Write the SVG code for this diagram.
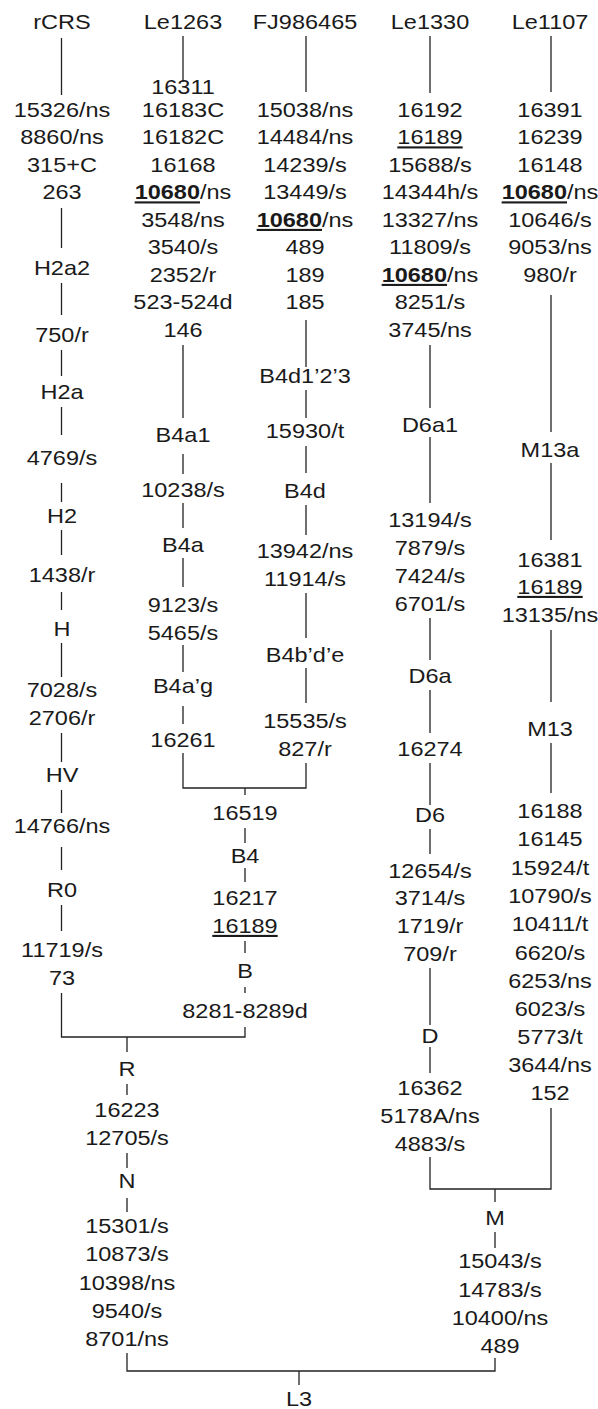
<svg xmlns="http://www.w3.org/2000/svg" width="598" height="1409" viewBox="0 0 598 1409">
<style>
text{font-family:"Liberation Sans",Arial,sans-serif;font-size:21px;fill:#1a1a1a;text-anchor:middle}
.b{font-weight:bold}
.u{text-decoration:underline}
.ln{fill:none;stroke:#222;stroke-width:1.3}
</style>
<rect width="598" height="1409" fill="#fff"/>
<g id="connectors" class="ln">
<path d="M61.5 38V95M61.5 208V248M61.5 283V315M61.5 350V376M61.5 407V435M61.5 483V502M61.5 530V555M61.5 592V610M61.5 643V677M61.5 733V762M61.5 790V813M61.5 847V870M61.5 905V931M61.5 993V1037H245V1027"/>
<path d="M183 36V82M183 345V418M183 454V474M183 503V528M183 558V587M183 645V672M183 706V724M183 753V788H306V763"/>
<path d="M306 36V92M306 320V367M306 390V418M306 446V473M306 505V535M306 593V638M306 668V703"/>
<path d="M245 788V795M245 828V843M245 868V882M245 941V953M245 987V993"/>
<path d="M127 1037V1052M127 1084V1095M127 1153V1168M127 1198V1212M127 1353V1371H495V1358M299 1371V1385"/>
<path d="M430 36V93M430 345V408M430 437V503M430 618V660M430 690V733M430 763V805M430 829V854M430 968V1025M430 1047V1073M430 1157V1189H551V1108"/>
<path d="M551 36V92M551 295V432M551 463V540M551 630V702M551 743V793"/>
<path d="M495 1189V1202M495 1232V1248"/>
</g>
<g id="rCRS" transform="translate(62,0) scale(1.12,1)">
<text y="29">rCRS</text>
<text y="117">15326/ns</text>
<text y="144.5">8860/ns</text>
<text y="172">315+C</text>
<text y="199.5">263</text>
<text y="275">H2a2</text>
<text y="342">750/r</text>
<text y="399">H2a</text>
<text y="465">4769/s</text>
<text y="523">H2</text>
<text y="582">1438/r</text>
<text y="636">H</text>
<text y="697">7028/s</text>
<text y="725">2706/r</text>
<text y="782">HV</text>
<text y="833">14766/ns</text>
<text y="897">R0</text>
<text y="957">11719/s</text>
<text y="985">73</text>
</g>
<g id="Le1263" transform="translate(183,0) scale(1.12,1)">
<text y="29">Le1263</text>
<text y="94">16311</text>
<text y="117">16183C</text>
<text y="144.5">16182C</text>
<text y="172">16168</text>
<text y="199.5"><tspan class="b u">10680</tspan>/ns</text>
<text y="227">3548/ns</text>
<text y="254.5">3540/s</text>
<text y="282">2352/r</text>
<text y="309.5">523-524d</text>
<text y="337">146</text>
<text y="442">B4a1</text>
<text y="497">10238/s</text>
<text y="552">B4a</text>
<text y="612">9123/s</text>
<text y="640">5465/s</text>
<text y="693">B4a’g</text>
<text y="747">16261</text>
</g>
<g id="FJ986465" transform="translate(305,0) scale(1.12,1)">
<text y="29">FJ986465</text>
<text y="117">15038/ns</text>
<text y="144.5">14484/ns</text>
<text y="172">14239/s</text>
<text y="199.5">13449/s</text>
<text y="227"><tspan class="b u">10680</tspan>/ns</text>
<text y="254.5">489</text>
<text y="282">189</text>
<text y="309.5">185</text>
<text y="383">B4d1’2’3</text>
<text y="438">15930/t</text>
<text y="498">B4d</text>
<text y="558">13942/ns</text>
<text y="586">11914/s</text>
<text y="662">B4b’d’e</text>
<text y="728">15535/s</text>
<text y="756">827/r</text>
</g>
<g id="B" transform="translate(245,0) scale(1.12,1)">
<text y="820">16519</text>
<text y="863">B4</text>
<text y="905">16217</text>
<text y="933"><tspan class="u">16189</tspan></text>
<text y="978">B</text>
<text y="1018">8281-8289d</text>
</g>
<g id="R" transform="translate(127,0) scale(1.12,1)">
<text y="1076">R</text>
<text y="1117">16223</text>
<text y="1145">12705/s</text>
<text y="1188">N</text>
<text y="1233">15301/s</text>
<text y="1261">10873/s</text>
<text y="1290">10398/ns</text>
<text y="1318">9540/s</text>
<text y="1346">8701/ns</text>
</g>
<g id="Le1330" transform="translate(430,0) scale(1.12,1)">
<text y="29">Le1330</text>
<text y="117">16192</text>
<text y="144.5"><tspan class="u">16189</tspan></text>
<text y="172">15688/s</text>
<text y="199.5">14344h/s</text>
<text y="227">13327/ns</text>
<text y="254.5">11809/s</text>
<text y="282"><tspan class="b u">10680</tspan>/ns</text>
<text y="309.5">8251/s</text>
<text y="337">3745/ns</text>
<text y="432">D6a1</text>
<text y="527">13194/s</text>
<text y="555">7879/s</text>
<text y="583">7424/s</text>
<text y="611">6701/s</text>
<text y="683">D6a</text>
<text y="756">16274</text>
<text y="822">D6</text>
<text y="878">12654/s</text>
<text y="905">3714/s</text>
<text y="933">1719/r</text>
<text y="961">709/r</text>
<text y="1043">D</text>
<text y="1095">16362</text>
<text y="1123">5178A/ns</text>
<text y="1151">4883/s</text>
</g>
<g id="Le1107" transform="translate(550,0) scale(1.12,1)">
<text y="29">Le1107</text>
<text y="117">16391</text>
<text y="144.5">16239</text>
<text y="172">16148</text>
<text y="199.5"><tspan class="b u">10680</tspan>/ns</text>
<text y="227">10646/s</text>
<text y="254.5">9053/ns</text>
<text y="282">980/r</text>
<text y="457">M13a</text>
<text y="567">16381</text>
<text y="594"><tspan class="u">16189</tspan></text>
<text y="622">13135/ns</text>
<text y="736">M13</text>
<text y="818">16188</text>
<text y="846">16145</text>
<text y="875">15924/t</text>
<text y="903">10790/s</text>
<text y="931">10411/t</text>
<text y="960">6620/s</text>
<text y="988">6253/ns</text>
<text y="1016">6023/s</text>
<text y="1044">5773/t</text>
<text y="1072">3644/ns</text>
<text y="1100">152</text>
</g>
<g id="M" transform="translate(500,0) scale(1.12,1)">
<text x="-4.5" y="1225">M</text>
<text y="1268">15043/s</text>
<text y="1297">14783/s</text>
<text y="1325">10400/ns</text>
<text y="1353">489</text>
</g>
<g id="L3" transform="translate(299,0) scale(1.12,1)">
<text y="1406">L3</text>
</g>
</svg>
